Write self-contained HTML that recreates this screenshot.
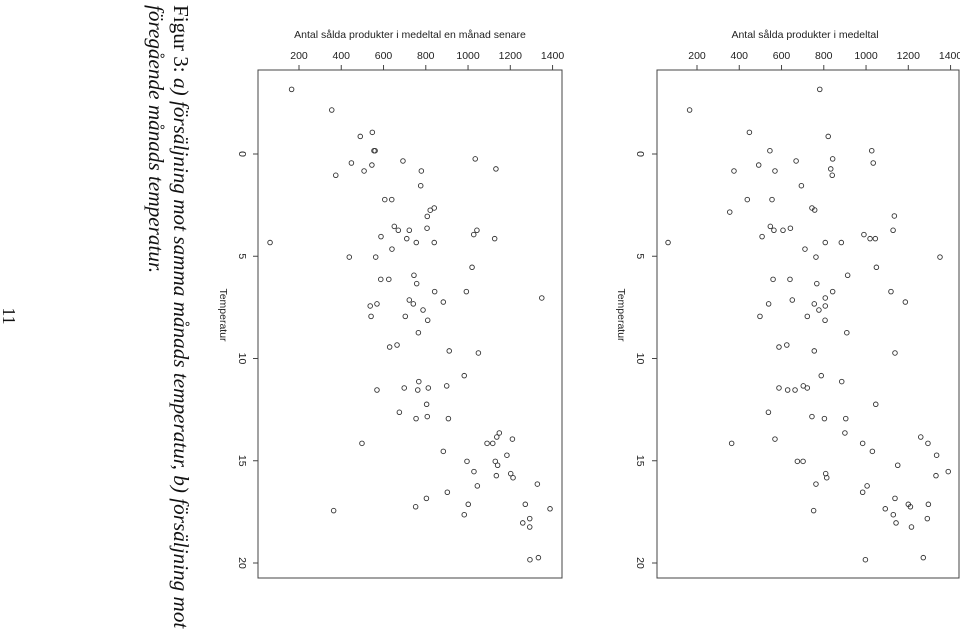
<!DOCTYPE html>
<html><head><meta charset="utf-8"><style>
html,body{margin:0;padding:0;background:#fff;width:960px;height:631px;overflow:hidden}
svg{display:block}
.t{font-family:"Liberation Sans",sans-serif;fill:#222}
.cap{font-family:"Liberation Serif",serif;font-style:italic;fill:#111;font-size:21.2px}
</style></head><body>
<svg id="fig" width="960" height="631" viewBox="0 0 960 631">
<text class="cap" transform="translate(3,316) rotate(90)" style="font-style:normal;font-size:18px" text-anchor="middle">11</text>
<text class="cap" transform="translate(174,5) rotate(90)"><tspan style="font-style:normal">Figur 3: </tspan>a) försäljning mot samma månads temperatur, b) försäljning mot</text>
<text class="cap" transform="translate(149,5) rotate(90)">föregående månads temperatur.</text>
<g id="plotA"></g>
<g id="plotB"></g>
</svg>
<script>
const tempTicks = [0, 5, 10, 15, 20];
const salesTicks = [200, 400, 600, 800, 1000, 1200, 1400];
const tempA = [-3.16,-2.15,-1.06,-0.86,-0.16,-0.16,0.44,0.54,0.83,0.34,1.04,0.83,0.24,0.73,1.55,2.23,2.23,2.64,2.75,3.05,3.54,3.73,3.73,3.63,3.73,3.94,4.04,4.14,4.33,4.33,4.14,4.33,4.65,5.04,5.04,5.54,6.13,6.13,5.93,6.34,6.73,6.73,7.04,7.14,7.33,7.24,7.33,7.43,7.94,7.94,7.63,8.13,8.74,9.44,9.34,9.63,9.73,10.84,11.13,11.54,11.44,11.54,11.44,11.34,12.24,12.63,12.94,12.84,12.94,13.64,13.84,14.15,14.15,13.94,14.15,14.54,14.73,15.03,15.03,15.22,15.53,15.73,15.63,15.83,16.14,16.23,16.54,16.84,17.25,17.44,17.13,17.64,17.13,17.35,17.83,18.04,18.24,19.84,19.74];
const salesA = [165,355,547,490,555,560,448,545,508,692,374,779,1034,1132,776,606,639,840,821,807,651,670,722,806,1042,1027,588,710,755,840,1126,63,640,438,563,1019,587,625,744,757,842,992,1349,722,741,883,569,537,541,703,787,809,765,629,664,911,1049,982,767,569,698,762,812,899,804,675,754,807,907,1148,1136,1090,1117,1210,498,883,1184,995,1129,1140,1028,1134,1202,1213,1328,1044,902,803,752,364,1001,982,1271,1388,1292,1259,1292,1293,1333];
const tempB = [-3.16,-2.15,-1.06,-0.86,-0.16,-0.16,0.34,0.24,0.54,0.44,0.83,0.83,0.73,1.04,1.55,2.23,2.23,2.84,2.64,2.74,3.03,3.54,3.73,3.73,3.63,3.73,3.94,4.14,4.14,4.04,4.33,4.33,4.33,4.65,5.04,5.04,5.54,5.93,6.13,6.13,6.34,6.73,6.73,7.24,7.14,7.04,7.33,7.33,7.43,7.63,7.94,7.94,8.13,8.74,9.44,9.34,9.63,9.73,10.84,11.13,11.44,11.54,11.54,11.34,11.44,12.24,12.63,12.84,12.94,12.94,13.64,13.84,14.15,14.15,14.15,13.94,14.54,14.73,15.03,15.03,15.22,15.53,15.73,15.63,15.83,16.14,16.23,16.54,16.84,17.13,17.25,17.35,17.13,17.44,17.64,17.83,18.04,18.24,19.84,19.74];
const salesB = [781,165,448,821,545,1027,669,842,492,1034,375,569,833,840,694,438,555,355,744,757,1134,547,564,607,642,1128,990,1019,1044,508,63,807,883,711,763,1350,1049,913,560,640,767,842,1118,1186,651,807,539,755,807,777,498,722,806,909,588,625,755,1137,788,885,588,629,664,703,722,1046,538,744,803,904,900,1259,1293,984,364,569,1030,1334,675,702,1150,1389,1331,809,814,763,1005,984,1137,1200,1210,1091,1295,752,1129,1290,1142,1215,997,1271];

const NS = 'http://www.w3.org/2000/svg';
const yOf = t => 154 + t * 20.45;
function mk(parent, tag, attrs) {
  const e = document.createElementNS(NS, tag);
  for (const k in attrs) e.setAttribute(k, attrs[k]);
  parent.appendChild(e);
  return e;
}
function drawPlot(g, x0, boxL, boxR, temps, sales, title, labX, tempLabX, tickLabX) {
  const xOf = v => x0 + (v - 200) * 0.2113;
  const box = mk(g, 'rect', {x: boxL, y: 70, width: boxR - boxL, height: 508, fill: 'none', stroke: '#444', 'stroke-width': 1});
  
  
  const tt = mk(g, 'text', {x: labX, y: 38, 'text-anchor': 'middle', 'font-size': 10.5, class: 't'});
  tt.textContent = title;
  
  
  salesTicks.forEach(v => {
    const x = xOf(v);
    const l = mk(g, 'line', {x1: x, x2: x, y1: 65, y2: 70, stroke: '#444'});
    
    
    const tx = mk(g, 'text', {x: x, y: 59, 'text-anchor': 'middle', 'font-size': 10.5, class: 't'});
    tx.textContent = v;
    
    
  });
  tempTicks.forEach(t => {
    const y = yOf(t);
    const l = mk(g, 'line', {x1: boxL - 5, x2: boxL, y1: y, y2: y, stroke: '#444'});
    
    
    const tx = mk(g, 'text', {transform: `translate(${tickLabX},${y}) rotate(90)`, 'text-anchor': 'middle', 'font-size': 10.5, class: 't'});
    tx.textContent = t;
    
    
  });
  const xl = mk(g, 'text', {transform: `translate(${tempLabX},315) rotate(90)`, 'text-anchor': 'middle', 'font-size': 10.5, class: 't'});
  xl.textContent = 'Temperatur';
  
  
  temps.forEach((t, i) => {
    const c = mk(g, 'circle', {cx: xOf(sales[i]), cy: yOf(t), r: 2.3, fill: 'none', stroke: '#333', 'stroke-width': 0.9});
    
    
  });
}
drawPlot(document.getElementById('plotA'), 299, 258, 562, tempA, salesA, 'Antal sålda produkter i medeltal en månad senare', 410, 220, 239);
drawPlot(document.getElementById('plotB'), 697, 657, 959, tempB, salesB, 'Antal sålda produkter i medeltal', 805, 618, 637);
</script>
</body></html>
